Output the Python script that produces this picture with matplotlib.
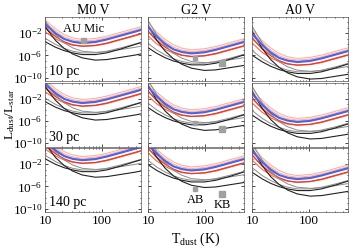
import numpy as np
import matplotlib
matplotlib.use("Agg")
import matplotlib.pyplot as plt
from matplotlib.ticker import FuncFormatter, LogLocator, NullFormatter

plt.rcParams['font.family'] = ['Liberation Serif', 'DejaVu Serif']
plt.rcParams['mathtext.fontset'] = 'custom'
plt.rcParams['mathtext.rm'] = 'Liberation Serif'
plt.rcParams['mathtext.it'] = 'Liberation Serif:italic'

# spectral types (columns) and distances (rows)
stars = ['M0 V', 'G2 V', 'A0 V']
dists = ['10 pc', '30 pc', '140 pc']

# shifts of the curve family per star (log T, log L) and per distance (log L)
star_dlogT = [-0.11, 0.0, 0.03]
star_dlogL = [1.85, 0.0, -1.55]
dist_dlogL = [0.0, 1.0, 2.5]

logT = [0.85, 1.0, 1.15, 1.3, 1.45, 1.6, 1.77, 2.0, 2.2, 2.45, 2.7, 2.9]
# log10 Ldust/Lstar
blue     = [1.5, -0.9, -2.6, -3.9, -4.9, -5.4, -5.65, -5.45, -5.0, -4.3, -3.6, -3.0]
salmon_a = [2.0, -0.5, -2.2, -3.5, -4.5, -5.05, -5.3, -5.1, -4.7, -4.0, -3.3, -2.7]
salmon_b = [2.4, -0.1, -1.8, -3.1, -4.1, -4.7, -5.0, -4.8, -4.4, -3.7, -3.0, -2.4]
salmon_c = [-0.3, -1.8, -3.1, -4.2, -4.9, -5.3, -5.5, -5.3, -4.9, -4.2, -3.45, -2.85]
red_a    = [0.5, -1.6, -3.3, -4.5, -5.4, -5.95, -6.2, -6.05, -5.65, -4.95, -4.25, -3.65]
red_b    = [-1.0, -2.5, -3.9, -4.9, -5.6, -6.0, -6.2, -6.1, -5.75, -5.05, -4.35, -3.75]
black_a  = [-3.6, -4.6, -5.6, -6.4, -7.0, -7.4, -7.7, -7.7, -7.4, -6.7, -5.9, -5.3]
grey_a   = [-2.6, -3.8, -5.0, -5.9, -6.6, -7.1, -7.4, -7.4, -7.1, -6.5, -5.8, -5.2]
grey_b   = [3.0, 0.3, -2.2, -4.2, -5.6, -6.5, -7.1, -7.3, -7.2, -6.8, -6.4, -6.0]
black_b  = [2.0, -0.6, -3.2, -5.2, -6.6, -7.6, -8.3, -8.7, -8.6, -8.2, -7.8, -7.4]

curves = [
    (salmon_a, '#f7b4a6', 0.8), (salmon_b, '#f7b4a6', 0.8), (salmon_c, '#f59a88', 0.8),
    (red_b, '#f26a50', 0.8), (red_a, '#ee3a1c', 0.9),
    (grey_a, '#8c8c8c', 0.7), (grey_b, '#8c8c8c', 0.7),
    (black_a, '#222222', 0.8), (black_b, '#222222', 0.8),
    (blue, '#4b63e8', 1.5),
]

# known systems
aumic_T, aumic_L = 48, 5e-4
ab_T, ab_L = 68, 4e-7
kb_T, kb_L = 205, 4e-8

W, H = 357, 252
fig = plt.figure(figsize=(W / 100, H / 100), dpi=100)
col_left = [45, 148, 252]
row_top = [17, 82.5, 148]
aw, ah = 96, 64

for r in range(3):
    for c in range(3):
        ax = fig.add_axes([col_left[c] / W, 1 - (row_top[r] + ah) / H, aw / W, ah / H])
        for yv, col, lw in curves:
            T = 10 ** (np.array(logT) + star_dlogT[c])
            L = 10 ** (np.array(yv) + star_dlogL[c] + dist_dlogL[r])
            ax.plot(T, L, color=col, lw=lw)
        ax.set_xscale('log')
        ax.set_yscale('log')
        ax.set_xlim(10, 500)
        ax.set_ylim(10 ** -10.6, 10 ** 0.9)
        ax.set_yticks([1e-2, 1e-6, 1e-10])
        ax.set_xticks([10, 100])
        ax.xaxis.set_major_formatter(FuncFormatter(lambda v, p: '%g' % v))
        ax.tick_params(which='both', direction='in', top=True, right=True,
                       labelsize=9.5, length=2, width=0.5, pad=2)
        ax.tick_params(which='minor', length=1)
        ax.yaxis.set_minor_locator(LogLocator(base=10, subs=[1.0], numticks=30))
        ax.yaxis.set_minor_formatter(NullFormatter())
        for s in ax.spines.values():
            s.set_linewidth(0.5)
            s.set_color('#555555')
        if c != 0:
            ax.set_yticklabels([])
        if r != 2:
            ax.set_xticklabels([])
        if c == 0:
            ax.text(0.04, 0.04, dists[r], transform=ax.transAxes, fontsize=10, va='bottom')
        if r == 0:
            ax.set_title(stars[c], fontsize=10, pad=2)
        if c == 0 and r == 0:
            ax.plot([aumic_T], [aumic_L], 's', color='#a0a0a0', ms=3.6)
            ax.text(aumic_T, aumic_L * 8, 'AU Mic', fontsize=9, ha='center', va='bottom')
        if c == 1:
            ax.plot([ab_T], [ab_L], 's', color='#a0a0a0', ms=3.4)
            ax.plot([kb_T], [kb_L], 's', color='#a0a0a0', ms=4.6)
            if r == 2:
                ax.text(ab_T, ab_L / 8, 'AB', fontsize=9, ha='center', va='top')
                ax.text(kb_T, kb_L / 8, 'KB', fontsize=9, ha='center', va='top')
        if c == 0 and r == 1:
            ax.set_ylabel(r'L$_{\rm dust}$/L$_{\rm star}$', fontsize=9.5)
            ax.yaxis.set_label_coords(-0.29, 0.5)
        if c == 1 and r == 2:
            ax.set_xlabel(r'T$_{\rm dust}$ (K)', fontsize=10, labelpad=3)

fig.savefig('out.png', dpi=100)
